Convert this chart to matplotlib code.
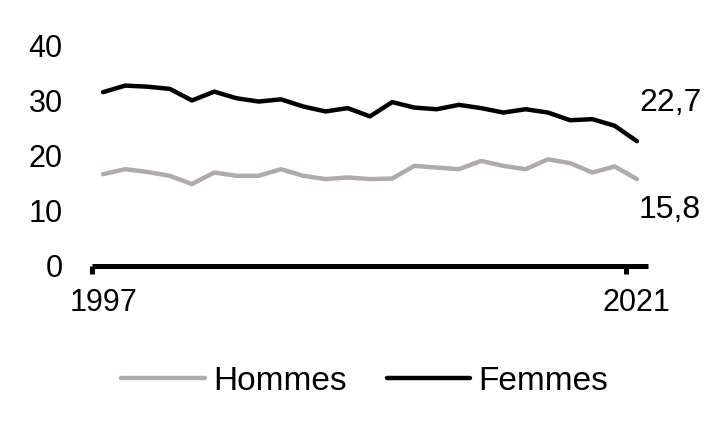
import matplotlib
matplotlib.use("Agg")
import matplotlib.pyplot as plt
import numpy as np

plt.rcParams['font.family'] = ['Liberation Sans', 'DejaVu Sans']

annees = list(range(1997, 2022))
femmes = [31.6, 32.8, 32.6, 32.2, 30.1, 31.7, 30.5, 29.9, 30.3, 29.0, 28.1, 28.7, 27.2,
          29.8, 28.8, 28.5, 29.3, 28.7, 27.9, 28.5, 27.9, 26.5, 26.7, 25.5, 22.7]
hommes = [16.7, 17.6, 17.1, 16.4, 14.9, 17.0, 16.4, 16.4, 17.6, 16.4, 15.8, 16.1, 15.8,
          15.9, 18.2, 17.9, 17.6, 19.1, 18.2, 17.6, 19.4, 18.7, 17.0, 18.1, 15.8]
etiquettes_fin = ["15,8", "22,7"]

gris = '#AFABAB'
x = np.arange(len(annees))

fig = plt.figure(figsize=(7.18, 4.38), dpi=100)
ax = fig.add_axes([0.128, 0.3927, 0.7745, 0.5023])

ax.plot(x, hommes, color=gris, lw=3.2, label='Hommes', solid_capstyle='round')
ax.plot(x, femmes, color='black', lw=3.2, label='Femmes', solid_capstyle='round')

ax.set_xlim(-0.5, len(annees) - 0.5)
ax.set_ylim(0, 40)
ax.set_yticks([0, 10, 20, 30, 40])
ax.tick_params(axis='y', length=0, pad=21, labelsize=22)

# labels under the points, tick marks on the category edges
ax.set_xticks([0, len(annees) - 1])
ax.set_xticklabels([str(annees[0]), str(annees[-1])])
ax.tick_params(axis='x', which='major', length=0, pad=16, labelsize=22)
ax.set_xticks([-0.5, len(annees) - 1.5], minor=True)
ax.tick_params(axis='x', which='minor', length=6, width=3.6, direction='out', color='black')

for s in ['top', 'right', 'left']:
    ax.spines[s].set_visible(False)
ax.spines['bottom'].set_linewidth(3.6)
ax.spines['bottom'].set_capstyle('butt')

ax.text(len(annees) - 0.9, 29.6, etiquettes_fin[1], fontsize=23, ha='left', va='center')
ax.text(len(annees) - 0.9, 10.2, etiquettes_fin[0], fontsize=23, ha='left', va='center')

fig.legend(loc='center', bbox_to_anchor=(0.508, 0.13), ncol=2, frameon=False,
           fontsize=24, handlelength=2.5, handletextpad=0.25, columnspacing=1.2)

fig.savefig('out.png', dpi=100)
